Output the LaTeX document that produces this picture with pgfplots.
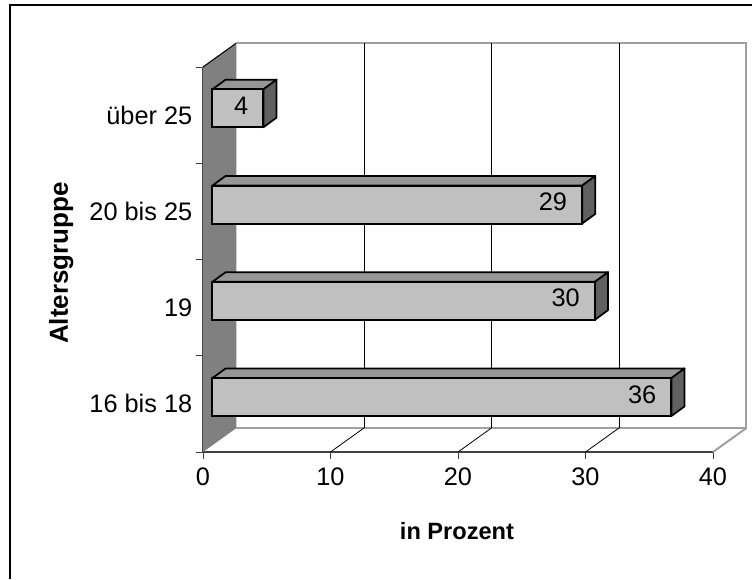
\documentclass[border=0pt]{standalone}
\usepackage{fontspec}
\setmainfont{Liberation Sans}
\usepackage{pgfplots}
\pgfplotsset{compat=1.18}
\definecolor{wall}{HTML}{808080}
\definecolor{face}{HTML}{C0C0C0}
\definecolor{topface}{HTML}{969696}
\definecolor{sideface}{HTML}{606060}
\definecolor{rim}{HTML}{A0A0A0}
\pgfplotsset{
    rimline/.style={draw=rim, line width=1.5pt, no markers, forget plot},
    thinline/.style={draw=black, line width=0.6pt, no markers, forget plot},
    barside/.style={draw=black, line width=1.3pt, line join=round, no markers, forget plot},
}
\begin{document}
\begin{tikzpicture}
    % 1 px of the reference = 0.75pt, origin at the lower left axis corner
    \useasboundingbox (-152.25pt,-95.25pt) rectangle (411.75pt,339pt);
    \draw[black, line width=1pt] (-144.75pt,-95.25pt) -- (-144.75pt,335.25pt) -- (411.75pt,335.25pt);

    \begin{axis}[
        at={(0pt,0pt)}, anchor=south west,
        scale only axis,
        width=382.5pt,
        height=288.75pt,
        xmin=-0.74, xmax=39.26,
        ymin=0, ymax=4,
        clip=false,
        axis x line=bottom,
        axis y line=left,
        axis line style={-, draw=black!75, line width=0.9pt},
        tick align=outside,
        tick style={draw=black!75, line width=0.7pt},
        major tick length=5pt,
        minor tick length=5pt,
        xtick={-0.74,9.26,19.26,29.26,39.26},
        xticklabels={0,10,20,30,40},
        ytick={0.5,1.5,2.5,3.5},
        yticklabels={16 bis 18,19,20 bis 25,über 25},
        major y tick style={draw=none},
        minor ytick={0,1,2,3,4},
        ticklabel style={font=\fontsize{19}{21}\selectfont, /pgf/number format/assume math mode=true},
        xticklabel style={yshift=-3pt},
        yticklabel style={xshift=0.5pt},
        xlabel={\textbf{in Prozent}},
        ylabel={\textbf{Altersgruppe}},
        xlabel style={font=\fontsize{17.7}{20}\selectfont, at={(axis description cs:0.498,-0.205)}, anchor=center},
        ylabel style={font=\fontsize{19.5}{21}\selectfont, at={(axis description cs:-0.278,0.491)}, anchor=center},
    ]
        % left wall
        \addplot[fill=wall, draw=none, no markers, forget plot] coordinates {(-0.74,0) (-0.74,4) (1.88,4.249) (1.88,0.249) (-0.74,0)};
        \addplot[thinline, line width=0.8pt] coordinates {(-0.74,4) (1.88,4.249)};

        % back plane and floor
        \addplot[rimline] coordinates {(1.88,4.249) (41.88,4.249) (41.88,0.249) (1.88,0.249)};
        \addplot[rimline] coordinates {(39.26,0) (41.88,0.249)};
        \addplot[thinline] coordinates {(11.88,0.249) (11.88,4.249)};
        \addplot[thinline] coordinates {(21.88,0.249) (21.88,4.249)};
        \addplot[thinline] coordinates {(31.88,0.249) (31.88,4.249)};
        \addplot[thinline] coordinates {(9.26,0) (11.88,0.249)};
        \addplot[thinline] coordinates {(19.26,0) (21.88,0.249)};
        \addplot[thinline] coordinates {(29.26,0) (31.88,0.249)};

        % tops and sides of the bars
        \addplot[barside, fill=topface] coordinates {(0,0.768) (36,0.768) (37.03,0.868) (1.03,0.868) (0,0.768)};
        \addplot[barside, fill=sideface] coordinates {(36,0.768) (37.03,0.868) (37.03,0.474) (36,0.374) (36,0.768)};
        \addplot[barside, fill=topface] coordinates {(0,1.768) (30,1.768) (31.03,1.868) (1.03,1.868) (0,1.768)};
        \addplot[barside, fill=sideface] coordinates {(30,1.768) (31.03,1.868) (31.03,1.474) (30,1.374) (30,1.768)};
        \addplot[barside, fill=topface] coordinates {(0,2.768) (29,2.768) (30.03,2.868) (1.03,2.868) (0,2.768)};
        \addplot[barside, fill=sideface] coordinates {(29,2.768) (30.03,2.868) (30.03,2.474) (29,2.374) (29,2.768)};
        \addplot[barside, fill=topface] coordinates {(0,3.768) (4,3.768) (5.03,3.868) (1.03,3.868) (0,3.768)};
        \addplot[barside, fill=sideface] coordinates {(4,3.768) (5.03,3.868) (5.03,3.474) (4,3.374) (4,3.768)};

        % front faces
        \addplot[
            xbar,
            bar width=28.5pt,
            bar shift=0pt,
            fill=face,
            draw=black,
            line width=1.5pt,
            nodes near coords,
            nodes near coords align={anchor=east},
            every node near coord/.append style={
                font=\fontsize{19}{21}\selectfont,
                /pgf/number format/assume math mode=true,
                black, line width=0pt, xshift=-8pt, yshift=2pt},
        ] coordinates {(36,0.571) (30,1.571) (29,2.571) (4,3.571)};
    \end{axis}
\end{tikzpicture}
\end{document}
